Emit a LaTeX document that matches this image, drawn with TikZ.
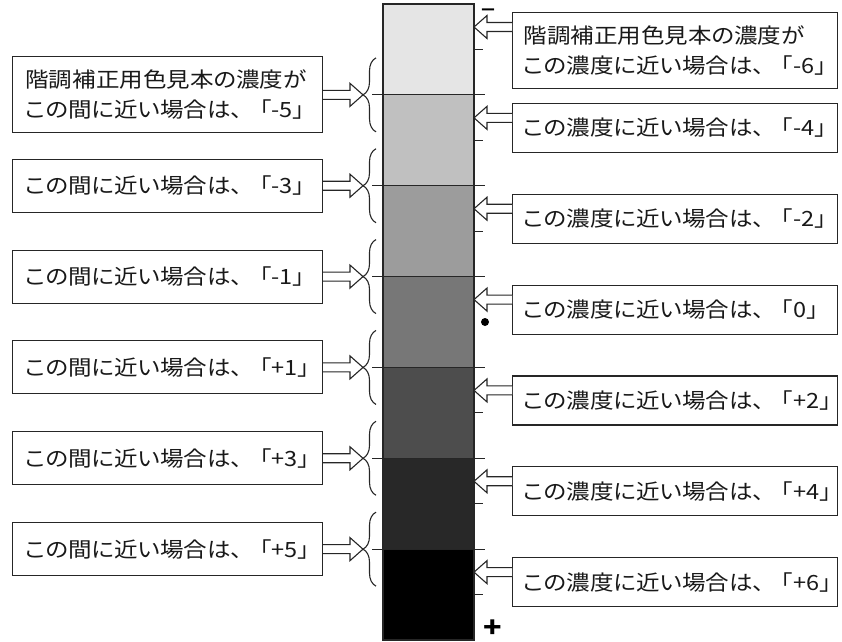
\documentclass[tikz,border=0pt]{standalone}
\usepackage{fontspec}
\newfontfamily\jpfont[FakeStretch=1.12]{Noto Sans CJK JP}
\newfontfamily\jpp[FakeStretch=1.12,RawFeature=+palt]{Noto Sans CJK JP}
\usetikzlibrary{calc,decorations.pathreplacing}
\tikzset{
  ln/.style={line width=1.1pt,draw=black!85},
  lbox/.style={ln,fill=white,text width=284pt,inner xsep=13pt,inner ysep=0pt,align=left,
    font=\jpfont\fontsize{21}{30}\selectfont,text=black!90},
  rbox/.style={lbox,text width=303pt,inner xsep=11pt},
  arr/.style={ln,fill=white,line join=miter},
  brc/.style={ln,decorate,decoration={brace,amplitude=13pt}},
  sgn/.style={inner sep=0pt,font=\jpfont\bfseries\fontsize{16}{16}\selectfont},
}
% hollow block arrow between two points on one horizontal line
\newcommand{\hollowarrow}[2]{%
  \draw[arr] let \p1=(#1), \p2=(#2), \n1={sign(\x1-\x2)*13} in
    (\x1,\y1+4.5pt) -- (\x2+\n1,\y1+4.5pt) -- (\x2+\n1,\y1+11.5pt) -- (\x2,\y2)
    -- (\x2+\n1,\y1-11.5pt) -- (\x2+\n1,\y1-4.5pt) -- (\x1,\y1-4.5pt);}
\newcommand{\hd}{\mbox{\jpp 階調補正用色見本の濃度が}}
\newcommand{\lk}[1]{\mbox{{\jpp この間に近い場合は}、\kern-.3em「#1\makebox[.45em][l]{」}}}
\newcommand{\rk}[1]{\mbox{{\jpp この濃度に近い場合は}、\kern-.3em「#1\makebox[.45em][l]{」}}}
\def\bh{90.857}
\begin{document}
\begin{tikzpicture}[x=1pt,y=-1pt]
\useasboundingbox (0,0) rectangle (842,641);
% grey scale bar
\foreach \c [count=\i from 0] in {E5E5E5,C0C0C0,9C9C9C,777777,4D4D4D,282828,000000}{
  \definecolor{blk}{HTML}{\c}
  \fill[blk] (383,{4+\i*\bh}) rectangle (474,{4+(\i+1)*\bh});}
\draw[ln] (383,4) rectangle (474,640);
\foreach \i in {0,1,2,4,5,6} \draw[ln] (474,{4+(\i+0.5)*\bh}) -- (483,{4+(\i+0.5)*\bh});
\fill[black] (485,{4+3.5*\bh}) circle (4);
\node[sgn,xscale=2.4] (minus) at (488,11.5) {-};
\node[sgn,scale=1.7] (plus) at (493,629) {+};
% boundaries and braces
\foreach \j in {1,...,6}{
  \draw[ln] (372,{4+\j*\bh}) -- (485,{4+\j*\bh});
  \draw[brc] (376,{4+\j*\bh+37}) -- (376,{4+\j*\bh-37});
  \coordinate (b\j) at (363,{4+\j*\bh});}
% left boxes
\foreach \h/\t [count=\j] in {76/{\hd\\\lk{-5}},53/\lk{-3},53/\lk{-1},53/\lk{+1},53/\lk{+3},53/\lk{+5}}{
  \node[lbox,minimum height=\h pt,anchor=east] (l\j) at (323,{4+\j*\bh}) {\t};
  \hollowarrow{l\j.east}{b\j}}
% right boxes
\foreach \h/\t [count=\i from 0] in {76/{\hd\\\rk{-6}},49/\rk{-4},49/\rk{-2},49/\rk{0},49/\rk{+2},49/\rk{+4},49/\rk{+6}}{
  \node[rbox,minimum height=\h pt,anchor=north west] (r\i) at (512,{12+\i*\bh}) {\t};
  \coordinate (t\i) at (474,{27+\i*\bh});
  \hollowarrow{r\i.west |- t\i}{t\i}}
\end{tikzpicture}
\end{document}
